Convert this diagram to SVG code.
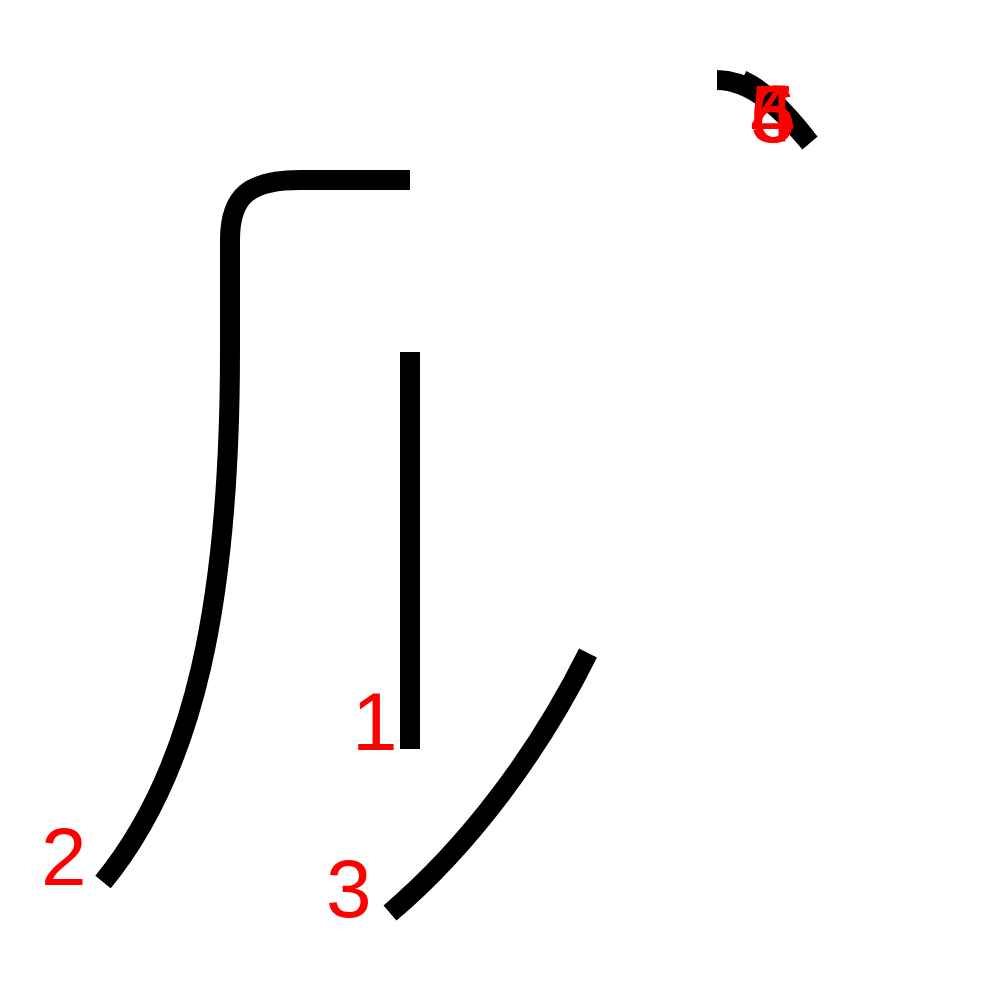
<svg xmlns="http://www.w3.org/2000/svg" width="1000" height="1000" viewBox="0 0 1000 1000">
<style>
.s{fill:none;stroke:#000;stroke-width:20}
.n{fill:#f00;font-family:"Liberation Sans",Arial,sans-serif;font-size:82px}
</style>
<rect width="1000" height="1000" fill="#fff"/>
<g id="strokes">
<path id="s1" class="s" d="M410,352 L410,749"/>
<path id="s2" class="s" d="M410,180 L300,180 C250,180 230,195 230,240 L230,350 C230,600 195,770 103,882"/>
<path id="s3" class="s" d="M588,653 C540,750 470,845 390,913"/>
<path id="s4" class="s" d="M717,80 C752,80 782,110 810,143"/>
<path id="s5" class="s" d="M742,80 C768,92 790,118 806,138"/>
</g>
<g id="labels">
<text class="n" x="352" y="750">1</text>
<text class="n" x="41" y="885">2</text>
<text class="n" x="326" y="917">3</text>
<text class="n" x="750" y="142">4</text>
<text class="n" x="750" y="142">5</text>
<text class="n" x="750" y="142">6</text>
</g>
</svg>
